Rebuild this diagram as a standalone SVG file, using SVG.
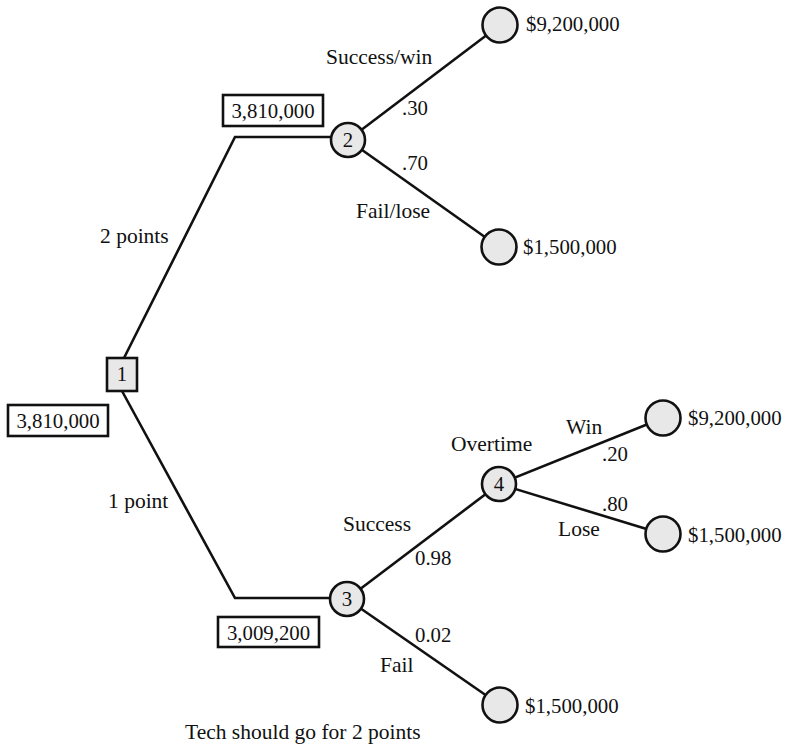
<svg xmlns="http://www.w3.org/2000/svg" width="787" height="749" viewBox="0 0 787 749">
<style>
text{font-family:"Liberation Serif","Times New Roman",serif;font-size:21.5px;fill:#111}
.n{font-size:20.8px}
.c{text-anchor:middle}
.ln{stroke:#111;stroke-width:2.6;fill:none;stroke-linejoin:miter}
.nd{fill:#e8e8e8;stroke:#111;stroke-width:2.6}
.bx{fill:#fff;stroke:#111;stroke-width:2.6}
</style>
<rect width="787" height="749" fill="#fff"/>
<g id="connectors">
<polyline class="ln" points="124,358 235,137 340,137"/>
<polyline class="ln" points="122,391 235,598 340,598"/>
<line class="ln" x1="348" y1="140" x2="500" y2="25"/>
<line class="ln" x1="348" y1="140" x2="499" y2="247"/>
<line class="ln" x1="347" y1="599" x2="499" y2="484"/>
<line class="ln" x1="347" y1="599" x2="500" y2="705"/>
<line class="ln" x1="499" y1="484" x2="663" y2="418"/>
<line class="ln" x1="499" y1="484" x2="663" y2="534"/>
</g>
<g id="labels">
<text x="100" y="243">2 points</text>
<text x="108" y="508">1 point</text>
<text x="326" y="64">Success/win</text>
<text class="n" x="402" y="115">.30</text>
<text class="n" x="402" y="170">.70</text>
<text x="356" y="218">Fail/lose</text>
<text x="451" y="451">Overtime</text>
<text x="343" y="531">Success</text>
<text class="n" x="415" y="565">0.98</text>
<text class="n" x="415" y="642">0.02</text>
<text x="380" y="672">Fail</text>
<text x="566" y="434">Win</text>
<text class="n" x="602" y="461">.20</text>
<text class="n" x="602" y="511">.80</text>
<text x="558" y="536">Lose</text>
<text x="185" y="739">Tech should go for 2 points</text>
</g>
<g id="node1">
<rect class="nd" x="107" y="358" width="30" height="33"/>
<text class="c n" x="122" y="381">1</text>
</g>
<g id="value1">
<rect class="bx" x="8" y="405" width="100" height="31"/>
<text class="c n" x="58" y="428">3,810,000</text>
</g>
<g id="value2">
<rect class="bx" x="223" y="95" width="100" height="31"/>
<text class="c n" x="273" y="118">3,810,000</text>
</g>
<g id="value3">
<rect class="bx" x="218" y="617" width="101" height="30"/>
<text class="c n" x="268.5" y="640">3,009,200</text>
</g>
<g id="node2">
<circle class="nd" cx="348" cy="140" r="17"/>
<text class="c n" x="348" y="147">2</text>
</g>
<g id="node3">
<circle class="nd" cx="347" cy="599" r="17"/>
<text class="c n" x="347" y="606">3</text>
</g>
<g id="node4">
<circle class="nd" cx="499" cy="484" r="17"/>
<text class="c n" x="499" y="491">4</text>
</g>
<g id="t1">
<circle class="nd" cx="500" cy="25" r="17.5"/>
<text class="n" x="526" y="31">$9,200,000</text>
</g>
<g id="t2">
<circle class="nd" cx="499" cy="247" r="17.5"/>
<text class="n" x="523" y="254">$1,500,000</text>
</g>
<g id="t3">
<circle class="nd" cx="663" cy="418" r="17.5"/>
<text class="n" x="688" y="425">$9,200,000</text>
</g>
<g id="t4">
<circle class="nd" cx="663" cy="534" r="17.5"/>
<text class="n" x="688" y="542">$1,500,000</text>
</g>
<g id="t5">
<circle class="nd" cx="500" cy="705" r="17.5"/>
<text class="n" x="525" y="713">$1,500,000</text>
</g>
</svg>
